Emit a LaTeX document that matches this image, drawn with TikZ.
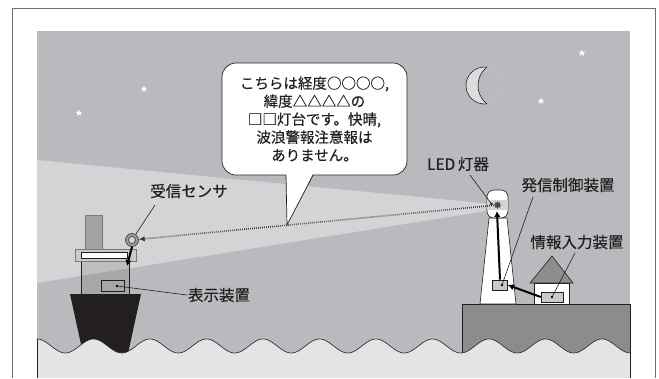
\documentclass[tikz,border=0pt]{standalone}
\usepackage{fontspec}
\setmainfont{Noto Sans CJK JP}[FakeBold=0.3]
\usetikzlibrary{shapes.geometric,arrows.meta}

\definecolor{ink}{HTML}{231F20}
\definecolor{framegray}{HTML}{6E6E6E}
\definecolor{sky}{HTML}{B9BABD}
\definecolor{beam}{HTML}{D3D4D6}
\definecolor{water}{HTML}{E3E4E6}
\definecolor{land}{HTML}{8C8C8E}
\definecolor{roof}{HTML}{8D8D8F}
\definecolor{hull}{HTML}{231F20}
\definecolor{chimney}{HTML}{A3A3A5}
\definecolor{deck}{HTML}{C9C9CB}
\definecolor{moonfill}{HTML}{DDDDE0}
\definecolor{boxgray}{HTML}{C9C9CB}
\definecolor{ringgray}{HTML}{9A9A9C}
\definecolor{bulb}{HTML}{4A4A4C}

% wavelength of the sea surface
\def\wavelen{56.5}

\begin{document}
\begin{tikzpicture}[x=1pt,y=-1pt,
  lbl/.style={font=\fontsize{15.5}{18}\selectfont, text=ink, inner sep=1pt},
  lead/.style={draw=ink, line width=0.6pt},
  bigarrow/.style={draw=black, line width=2pt, -{Latex[length=6pt,width=6.5pt]}},
  signal/.style={draw=ink!90, line width=1.6pt, dash pattern=on 0.7pt off 1.3pt,
                 -{Latex[length=6pt,width=5.5pt]}},
  devbox/.style={draw=ink, line width=0.6pt, fill=boxgray, inner sep=0pt},
  starmark/.style={star, star points=5, star point ratio=2.3, fill=white,
                   inner sep=0pt, minimum size=7pt},
  thinline/.style={draw=ink, line width=0.6pt}]
\useasboundingbox (0,0) rectangle (659,378);

% outer frame
\draw[framegray, line width=1pt] (12,378) -- (12,8) -- (655,8) -- (655,378);

% night sky
\fill[sky] (37,31) rectangle (630,378);

% light beam from the lighthouse
\fill[beam] (37,160) -- (492,204) -- (492,210) -- (37,283) -- cycle;

% stars
\node[starmark] (st1) at (144,89) {};
\node[starmark] (st2) at (79,113) {};
\node[starmark] (st3) at (582,53) {};
\node[starmark] (st4) at (541,101) {};

% crescent moon
\fill[moonfill] (484.5,85.5) circle (18.5);
\begin{scope}
  \clip (484.5,85.5) circle (18.5);
  \fill[sky] (501.5,85.5) circle (23.5);
  \draw[thinline] (501.5,85.5) circle (23.5);
\end{scope}
\begin{scope}[even odd rule]
  \clip (440,50) rectangle (540,125) (501.5,85.5) circle (23.5);
  \draw[thinline] (484.5,85.5) circle (18.5);
\end{scope}

% ship
\fill[hull] (70,294) -- (141,294) -- (127,358) -- (84,358) -- cycle;
\filldraw[fill=black, fill opacity=0.1, draw=ink, line width=0.6pt] (81,261) rectangle (129,294);
\filldraw[fill=chimney, draw=ink!60, line width=0.6pt] (85,215) rectangle (102,249);
\filldraw[fill=deck, draw=ink!60, line width=0.6pt] (75,249) rectangle (136,261);
\filldraw[fill=white, draw=ink, line width=0.5pt] (81,252) rectangle (127,258);
\node[draw=ink, line width=0.6pt, inner sep=0pt, minimum width=23pt, minimum height=11pt]
  (disp) at (112.5,285.5) {};
\coordinate (dispdot) at (117,286);
\fill (dispdot) circle (1.3);

% receiver sensor
\node[circle, fill=ringgray, draw=ink, line width=0.5pt, inner sep=0pt, minimum size=13pt]
  (sensor) at (132,240) {};
\node[circle, fill=beam, draw=ink, line width=0.5pt, inner sep=0pt, minimum size=7pt]
  (sensorhole) at (132,240) {};
\coordinate (shipin) at (127,266);
\draw[bigarrow] (sensor.south) -- (shipin);

% shore
\filldraw[fill=land, draw=ink, line width=0.6pt] (462,362) -- (462,304) -- (630,304) -- (630,362);

% sea
\fill[water] (37,378) -- plot[domain=37:630, samples=300] (\x,{346-7*cos(((\x-37)/\wavelen)*360)}) -- (630,378) -- cycle;
\draw[thinline] plot[domain=37:630, samples=300] (\x,{346-7*cos(((\x-37)/\wavelen)*360)});
\draw[thinline] (37,339) -- (37,378);
\draw[thinline] (630,352) -- (630,378);

% lighthouse tower and lamp
\filldraw[fill=white, draw=ink, line width=0.6pt] (489,218) -- (507,218) -- (516,304) -- (480,304) -- cycle;
\filldraw[fill=white, draw=ink, line width=0.6pt, rounded corners=7pt] (487,190) rectangle (508,218);
\fill[beam] (487.3,200) rectangle (507.7,209.5);
\node[star, star points=8, star point ratio=1.7, fill=bulb, inner sep=0pt, minimum size=8pt]
  (lamp) at (497.5,205) {};
\coordinate (leddot) at (491.5,204);
\fill (leddot) circle (1.3);

% house
\filldraw[fill=white, draw=ink, line width=0.6pt] (534,283) rectangle (569,304);
\filldraw[fill=roof, draw=ink, line width=0.6pt] (530,283) -- (552,256) -- (573,283) -- cycle;

% devices
\node[devbox, minimum width=15pt, minimum height=10pt] (ctlbox) at (500,285) {};
\coordinate (ctldot) at (502,285);
\fill (ctldot) circle (1.3);
\node[devbox, minimum width=22pt, minimum height=10pt] (inbox) at (552,297) {};
\coordinate (indot) at (552,297);
\fill (indot) circle (1.3);

% signal paths
\coordinate (lampin) at (497,211);
\draw[bigarrow] (ctlbox.north) -- (lampin);
\draw[bigarrow] (inbox.west) -- (ctlbox.east);
\draw[signal] (lamp) -- (sensor);

% speech bubble
\node[draw=ink, line width=0.7pt, fill=white, rounded corners=14pt, inner sep=0pt,
      minimum width=185pt, minimum height=112pt, align=center, text=ink,
      font=\fontsize{14.5}{18}\selectfont] (bubble) at (314.5,119)
  {こちらは経度○○○○,\\緯度△△△△の\\□□灯台です。快晴,\\波浪警報注意報は\\ありません。};
\coordinate (tailtip) at (287,225);
\fill[white] (286.4,174) -- (tailtip) -- (312.6,174) -- cycle;
\draw[thinline, line width=0.7pt] (286,175.3) -- (tailtip) -- (313,175.3);

% labels and leaders
\node[lbl] (rxlbl) at (189,191) {受信センサ};
\node[lbl] (displbl) at (219,295) {表示装置};
\node[lbl] (ledlbl) at (458,164) {LED\,灯器};
\node[lbl] (ctllbl) at (568,185) {発信制御装置};
\node[lbl] (inlbl) at (577,242) {情報入力装置};

\coordinate (rxlead) at (155,205);
\coordinate (ledlead) at (470,175);
\coordinate (ctllead) at (533,197);
\coordinate (inlead) at (575,253);
\draw[lead] (rxlead) -- (sensor);
\draw[lead] (dispdot) -- (displbl.west);
\draw[lead] (ledlead) -- (leddot);
\draw[lead] (ctllead) -- (ctldot);
\draw[lead] (inlead) -- (indot);
\end{tikzpicture}
\end{document}
